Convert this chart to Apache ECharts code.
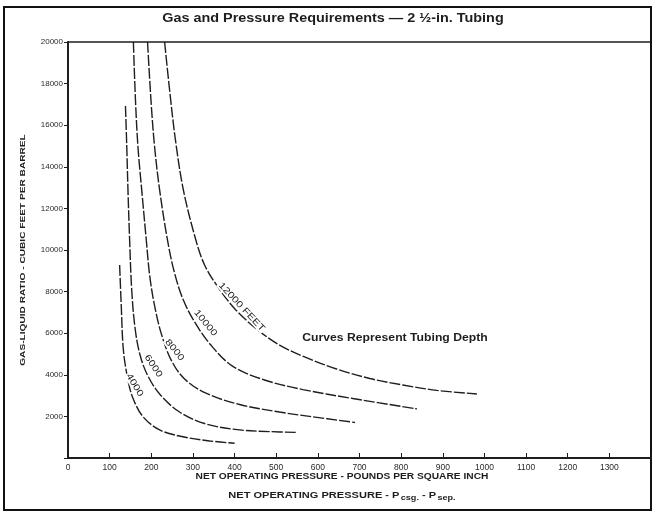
<!DOCTYPE html>
<html>
<head>
<meta charset="utf-8">
<script src="https://cdn.jsdelivr.net/npm/echarts@6/dist/echarts.min.js"></script>
<style>html,body{margin:0;padding:0;background:#fff;}#c{width:661px;height:512px;}</style>
</head>
<body>
<div id="c"></div>
<script>
// ---- data ----
const depthNames = ['4000', '6000', '8000', '10000', '12000 FEET'];
const xTickMax = 1300;

const curve4000X = [124, 128, 133, 144, 156, 180, 220, 276, 340, 400];
const curve4000Y = [9280, 7270, 5190, 3750, 2870, 1990, 1350, 1020, 820, 710];

const curve6000X = [138, 141, 144, 148, 153, 161, 173, 192, 222, 268, 331, 412, 484, 549];
const curve6000Y = [16920, 15050, 12890, 10480, 8080, 6250, 4950, 3940, 3030, 2210, 1640, 1350, 1270, 1230];

const curve8000X = [157, 162, 168, 177, 188, 196, 208, 225, 249, 280, 330, 412, 508, 580, 689];
const curve8000Y = [20000, 17220, 14950, 12890, 10480, 8800, 7310, 5910, 4660, 3800, 3130, 2570, 2210, 2000, 1710];

const curve10000X = [191, 200, 208, 220, 238, 254, 275, 304, 343, 395, 472, 564, 684, 838];
const curve10000Y = [20000, 16970, 14950, 12890, 10580, 9040, 7690, 6540, 5430, 4420, 3750, 3290, 2860, 2360];

const curve12000X = [232, 244, 258, 277, 307, 328, 360, 403, 456, 508, 568, 645, 725, 804, 886, 982];
const curve12000Y = [20000, 17690, 15290, 12890, 10480, 9280, 8220, 7120, 6150, 5430, 4860, 4280, 3820, 3510, 3250, 3080];

const curvesX = [curve4000X, curve6000X, curve8000X, curve10000X, curve12000X];
const curvesY = [curve4000Y, curve6000Y, curve8000Y, curve10000Y, curve12000Y];

// label anchor along each curve (data coords) and text angle
const labelAtX = [160, 205, 256, 330, 417];
const labelAtY = [3510, 4420, 5190, 6490, 7260];
const labelAngle = [-59, -56, -51, -51, -47];

// ---- chart ----
const chart = echarts.init(document.getElementById('c'));
const ink = '#1e1e1e';
const series = curvesX.map((xs, i) => ({
  name: depthNames[i],
  type: 'line',
  smooth: 0.35,
  symbol: 'none',
  lineStyle: { color: ink, width: 1.4, type: [11, 2] },
  data: xs.map((x, j) => [x, curvesY[i][j]]),
  z: 2
}));

chart.setOption({
  animation: false,
  backgroundColor: '#fff',
  grid: { left: 68, right: 10, top: 42, bottom: 54, show: true, borderColor: ink, borderWidth: 1.5, backgroundColor: 'transparent' },
  xAxis: {
    type: 'value', min: 0, max: 1400, interval: 100,
    axisLine: { show: true, lineStyle: { color: ink, width: 2 } },
    axisTick: { show: true, inside: true, length: 5, lineStyle: { color: ink } },
    splitLine: { show: false },
    axisLabel: {
      color: '#2a2a2a', fontSize: 8.5, fontFamily: 'Liberation Sans', margin: 5,
      formatter: v => (v > xTickMax ? '' : String(v))
    }
  },
  yAxis: {
    type: 'value', min: 0, max: 20000, interval: 2000,
    axisLine: { show: true, lineStyle: { color: ink, width: 2 } },
    axisTick: { show: true, inside: false, length: 4, lineStyle: { color: ink } },
    splitLine: { show: false },
    axisLabel: {
      color: '#2a2a2a', fontSize: 8, fontFamily: 'Liberation Sans', margin: 5,
      formatter: v => (v === 0 ? '' : String(v))
    }
  },
  series: series
});

// curve labels + texts
const labelGraphics = depthNames.map((name, i) => {
  const p = chart.convertToPixel({ gridIndex: 0 }, [labelAtX[i], labelAtY[i]]);
  return {
    type: 'text', x: p[0], y: p[1], rotation: labelAngle[i] * Math.PI / 180, scaleX: 1.25, z: 10,
    style: {
      text: name, fill: ink, font: '9px "Liberation Sans"',
      align: 'center', verticalAlign: 'middle',
      backgroundColor: '#fff', padding: [0, 1]
    }
  };
});

chart.setOption({
  graphic: [
    { type: 'rect', shape: { x: 4, y: 7, width: 647, height: 503 }, style: { fill: 'none', stroke: '#111', lineWidth: 2 }, z: 0 },
    {
      type: 'text', x: 333, y: 19, z: 10, scaleX: 1.2,
      style: {
        text: 'Gas and Pressure Requirements — 2 ½-in. Tubing',
        font: 'bold 12px "Liberation Sans"', fill: ink, align: 'center', verticalAlign: 'middle'
      }
    },
    {
      type: 'text', x: 23, y: 250, rotation: Math.PI / 2, scaleX: 1.35, z: 10,
      style: {
        text: 'GAS-LIQUID RATIO - CUBIC FEET PER BARREL',
        font: 'bold 7.5px "Liberation Sans"', fill: ink, align: 'center', verticalAlign: 'middle'
      }
    },
    {
      type: 'text', x: 342, y: 477, z: 10, scaleX: 1.2,
      style: {
        text: 'NET OPERATING PRESSURE - POUNDS PER SQUARE INCH',
        font: 'bold 8.5px "Liberation Sans"', fill: ink, align: 'center', verticalAlign: 'middle'
      }
    },
    {
      type: 'text', x: 342, y: 496, z: 10, scaleX: 1.3,
      style: {
        text: '{a|NET OPERATING PRESSURE - P}{s|csg.}{a| - P}{s|sep.}',
        align: 'center', verticalAlign: 'middle',
        rich: {
          a: { font: 'bold 8.5px "Liberation Sans"', fill: ink },
          s: { font: 'bold 7px "Liberation Sans"', fill: ink, verticalAlign: 'bottom', padding: [4, 0, 0, 1] }
        }
      }
    },
    {
      type: 'text', x: 395, y: 338, z: 10, scaleX: 1.22,
      style: {
        text: 'Curves Represent Tubing Depth',
        font: 'bold 10px "Liberation Sans"', fill: ink, align: 'center', verticalAlign: 'middle'
      }
    }
  ].concat(labelGraphics)
});
</script>
</body>
</html>
